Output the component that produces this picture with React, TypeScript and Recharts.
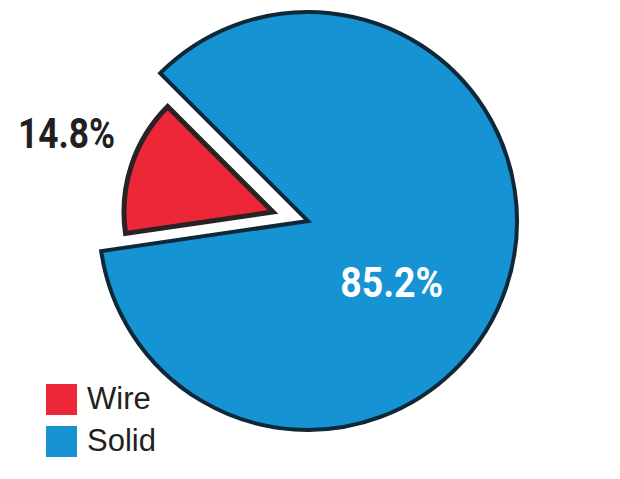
import React from 'react'
import { PieChart, Pie, Cell, Legend } from 'recharts'

const categories = ['Wire', 'Solid']
const shares = [14.8, 85.2]
const colors = ['#EC2838', '#1593D3']

const data = categories.map((name, i) => ({ name, value: shares[i] }))

const START = 135
const CX = 308
const CY = 221
const NUM_FONT = "Roboto, 'Liberation Sans', sans-serif"
const RAD = Math.PI / 180

/* eslint-disable @typescript-eslint/no-explicit-any */
const wireLabel = (p: any) => {
  if (p.name !== 'Wire') return null
  const a = (p.midAngle - 2.5) * RAD
  const x = p.cx + 221 * Math.cos(-a)
  const y = p.cy + 221 * Math.sin(-a)
  return (
    <text x={x} y={y} textAnchor="middle" dominantBaseline="central" fill="#231F20"
      fontFamily={NUM_FONT} fontWeight={700} fontSize={42} textLength={97} lengthAdjust="spacingAndGlyphs">
      {`${p.value}%`}
    </text>
  )
}

const solidLabel = (p: any) => {
  if (p.name !== 'Solid') return null
  const a = (p.midAngle - 18) * RAD
  const x = p.cx + 104 * Math.cos(-a)
  const y = p.cy + 104 * Math.sin(-a)
  return (
    <text x={x} y={y} textAnchor="middle" dominantBaseline="central" fill="#ffffff"
      fontFamily={NUM_FONT} fontWeight={700} fontSize={42} textLength={103} lengthAdjust="spacingAndGlyphs">
      {`${p.value}%`}
    </text>
  )
}

const LegendBox = () => (
  <div>
    {categories.map((c, i) => (
      <div key={c} style={{ display: 'flex', alignItems: 'center', height: 42 }}>
        <span style={{ width: 31, height: 31, background: colors[i], display: 'inline-block', marginRight: 10 }} />
        <span style={{ fontFamily: "'Liberation Sans', Arial, sans-serif", fontSize: 31, color: '#231F20' }}>{c}</span>
      </div>
    ))}
  </div>
)
/* eslint-enable @typescript-eslint/no-explicit-any */

export default function App() {
  return (
    <div style={{ position: 'absolute', left: 0, top: 0, width: 620, height: 479, background: '#fff' }}>
      <PieChart width={620} height={479} margin={{ top: 0, right: 0, bottom: 0, left: 0 }}>
        {/* main disc: solid share */}
        <Pie data={data} dataKey="value" nameKey="name" cx={CX} cy={CY} outerRadius={209}
          startAngle={START} endAngle={START + 360} isAnimationActive={false}
          label={solidLabel} labelLine={false} legendType="none">
          {data.map((d, i) => (
            <Cell key={d.name} fill={i === 1 ? colors[1] : 'none'}
              stroke={i === 1 ? '#0E2838' : 'none'} strokeWidth={4} />
          ))}
        </Pie>
        {/* exploded, smaller wire slice */}
        <Pie data={data} dataKey="value" nameKey="name" cx={CX - 35} cy={CY - 9} outerRadius={149}
          startAngle={START} endAngle={START + 360} isAnimationActive={false}
          label={wireLabel} labelLine={false} legendType="none">
          {data.map((d, i) => (
            <Cell key={d.name} fill={i === 0 ? colors[0] : 'none'}
              stroke={i === 0 ? '#2A2224' : 'none'} strokeWidth={5} />
          ))}
        </Pie>
        <Legend content={<LegendBox />} layout="vertical"
          wrapperStyle={{ left: 46, top: 378, width: 200 }} />
      </PieChart>
    </div>
  )
}
